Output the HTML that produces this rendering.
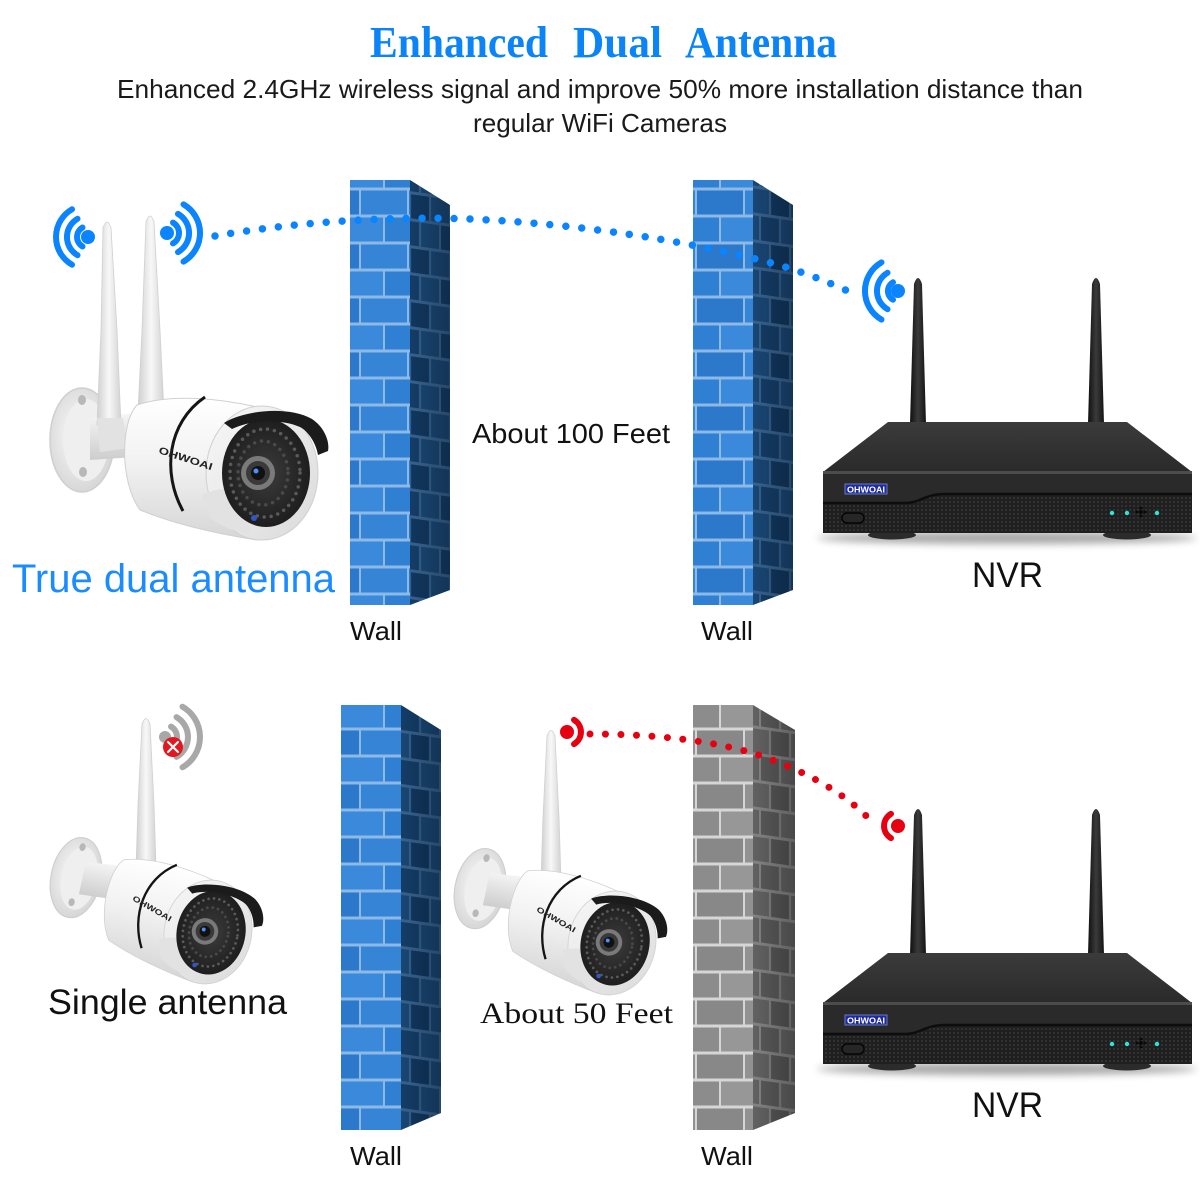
<!DOCTYPE html>
<html><head><meta charset="utf-8">
<style>
html,body{margin:0;padding:0;background:#fff;}
svg{display:block;}
</style></head><body>
<svg width="1200" height="1200" viewBox="0 0 1200 1200" xmlns="http://www.w3.org/2000/svg">
<defs>
  <pattern id="pBlueF" patternUnits="userSpaceOnUse" width="96" height="54">
    <rect width="96" height="54" fill="#8cb9e6"/>
    <rect x="1" y="1.5" width="46" height="24" fill="#2f7fd2"/>
    <rect x="49" y="1.5" width="46" height="24" fill="#3a89da"/>
    <rect x="-23" y="28.5" width="46" height="24" fill="#3584d6"/>
    <rect x="25" y="28.5" width="46" height="24" fill="#2c78cb"/>
    <rect x="73" y="28.5" width="46" height="24" fill="#3584d6"/>
  </pattern>
  <pattern id="pBlueS" patternUnits="userSpaceOnUse" width="40" height="54" patternTransform="skewY(8)">
    <rect width="40" height="54" fill="#3a6795"/>
    <rect x="1" y="1.5" width="18" height="24" fill="#15406c"/>
    <rect x="21" y="1.5" width="18" height="24" fill="#1b4a7a"/>
    <rect x="-9" y="28.5" width="18" height="24" fill="#1b4a7a"/>
    <rect x="11" y="28.5" width="18" height="24" fill="#123a64"/>
    <rect x="31" y="28.5" width="18" height="24" fill="#1b4a7a"/>
  </pattern>
  <pattern id="pGrayF" patternUnits="userSpaceOnUse" width="96" height="54">
    <rect width="96" height="54" fill="#d6d6d6"/>
    <rect x="1" y="1.5" width="46" height="24" fill="#8c8c8c"/>
    <rect x="49" y="1.5" width="46" height="24" fill="#979797"/>
    <rect x="-23" y="28.5" width="46" height="24" fill="#929292"/>
    <rect x="25" y="28.5" width="46" height="24" fill="#888888"/>
    <rect x="73" y="28.5" width="46" height="24" fill="#929292"/>
  </pattern>
  <pattern id="pGrayS" patternUnits="userSpaceOnUse" width="40" height="54" patternTransform="skewY(8)">
    <rect width="40" height="54" fill="#8a8a8a"/>
    <rect x="1" y="1.5" width="18" height="24" fill="#5e5e5e"/>
    <rect x="21" y="1.5" width="18" height="24" fill="#676767"/>
    <rect x="-9" y="28.5" width="18" height="24" fill="#676767"/>
    <rect x="11" y="28.5" width="18" height="24" fill="#5a5a5a"/>
    <rect x="31" y="28.5" width="18" height="24" fill="#676767"/>
  </pattern>
  <pattern id="mesh" patternUnits="userSpaceOnUse" width="4" height="4">
    <rect width="4" height="4" fill="#1f1f1f"/>
    <circle cx="2" cy="2" r="0.9" fill="#3d3d3d"/>
  </pattern>
  <linearGradient id="sideShade" x1="0" y1="0" x2="1" y2="0">
    <stop offset="0" stop-color="#000" stop-opacity="0.05"/>
    <stop offset="1" stop-color="#000" stop-opacity="0.3"/>
  </linearGradient>
  <linearGradient id="gBody" x1="0" y1="0" x2="0" y2="1">
    <stop offset="0" stop-color="#ffffff"/>
    <stop offset="0.45" stop-color="#f2f2f2"/>
    <stop offset="1" stop-color="#d6d6d6"/>
  </linearGradient>
  <radialGradient id="gMount" cx="0.45" cy="0.45" r="0.6">
    <stop offset="0" stop-color="#fbfbfb"/>
    <stop offset="1" stop-color="#d4d4d4"/>
  </radialGradient>
  <linearGradient id="gArm" x1="0" y1="0" x2="0" y2="1">
    <stop offset="0" stop-color="#f6f6f6"/>
    <stop offset="1" stop-color="#cdcdcd"/>
  </linearGradient>
  <linearGradient id="gRing" x1="0" y1="0" x2="1" y2="1">
    <stop offset="0" stop-color="#f8f8f8"/>
    <stop offset="1" stop-color="#dadada"/>
  </linearGradient>
  <radialGradient id="gFace" cx="0.5" cy="0.5" r="0.55">
    <stop offset="0" stop-color="#3c3c3c"/>
    <stop offset="1" stop-color="#1b1b1b"/>
  </radialGradient>
  <linearGradient id="gAntW" x1="0" y1="0" x2="1" y2="0">
    <stop offset="0" stop-color="#cfcfcf"/>
    <stop offset="0.5" stop-color="#f8f8f8"/>
    <stop offset="1" stop-color="#d2d2d2"/>
  </linearGradient>
  <linearGradient id="gAntB" x1="0" y1="0" x2="1" y2="0">
    <stop offset="0" stop-color="#101010"/>
    <stop offset="0.5" stop-color="#3a3a3a"/>
    <stop offset="1" stop-color="#141414"/>
  </linearGradient>
  <linearGradient id="gTop" x1="0" y1="0" x2="0" y2="1">
    <stop offset="0" stop-color="#3b3b3b"/>
    <stop offset="1" stop-color="#2a2a2a"/>
  </linearGradient>
  <filter id="blur" x="-20%" y="-300%" width="140%" height="700%">
    <feGaussianBlur stdDeviation="4"/>
  </filter>

  <g id="camMount">
    <ellipse cx="-180" cy="-33" rx="32" ry="52" fill="url(#gMount)" stroke="#cfcfcf" stroke-width="1.5"/>
    <ellipse cx="-176" cy="-33" rx="23" ry="41" fill="#efefef"/>
    <ellipse cx="-180" cy="-73" rx="4" ry="5" fill="#b8b8b8"/>
    <ellipse cx="-179" cy="-1" rx="4" ry="5" fill="#b8b8b8"/>
    <path d="M-172,-55 L-126,-60 L-126,-16 L-172,-13 Z" fill="url(#gArm)"/>
  </g>
  <g id="camBody">
    <path d="M-125,-68 C-90,-80 -40,-74 -5,-66 L-5,67 C-50,60 -90,50 -122,37 C-142,10 -142,-50 -125,-68 Z" fill="url(#gBody)" stroke="#d0d0d0"/>
    <path d="M-57,-76 C-95,-50 -100,0 -79,38" fill="none" stroke="#151515" stroke-width="3"/>
    <ellipse cx="0" cy="0" rx="56" ry="67" fill="url(#gRing)" stroke="#d0d0d0"/>
    <path d="M-60,22 Q-40,12 -20,18 L-10,62 Q-35,58 -52,45 Z" fill="#e2e2e2"/>
    <ellipse cx="4" cy="0" rx="44" ry="54" fill="url(#gFace)"/>
    <ellipse cx="3" cy="0" rx="35" ry="44" fill="none" stroke="#5a5a5a" stroke-width="3.5" stroke-linecap="round" stroke-dasharray="0 7"/>
    <ellipse cx="1" cy="0" rx="25" ry="32" fill="none" stroke="#4a4a4a" stroke-width="3.5" stroke-linecap="round" stroke-dasharray="0 7"/>
    <circle cx="-4" cy="0" r="17" fill="#7a7a7a"/>
    <circle cx="-4" cy="0" r="12" fill="#3a3a3a"/>
    <circle cx="-4" cy="0" r="7" fill="#111"/>
    <circle cx="-6" cy="-2" r="2.5" fill="#4a90ff"/>
    <path d="M-38,-50 C-20,-62 25,-68 50,-54 C62,-46 68,-32 66,-22 L56,-18 C54,-30 46,-42 38,-46 C20,-54 -10,-54 -30,-44 Z" fill="#1b1b1b"/>
    <circle cx="-8" cy="45" r="3" fill="#3355cc"/>
    <text x="-104" y="-20" transform="rotate(18 -104 -20)" font-family="Liberation Sans, sans-serif" font-weight="bold" font-size="10" fill="#222" textLength="56" lengthAdjust="spacingAndGlyphs">OHWOAI</text>
  </g>

  <g id="nvr">
    <ellipse cx="1007" cy="538" rx="190" ry="6" fill="#000" opacity="0.35" filter="url(#blur)"/>
    <path d="M914,284 Q918,272 922,284 L926,424 L910,424 Z" fill="url(#gAntB)"/>
    <path d="M1092,284 Q1096,272 1100,284 L1104,424 L1088,424 Z" fill="url(#gAntB)"/>
    <ellipse cx="892" cy="535" rx="24" ry="4.5" fill="#2b2b2b"/>
    <ellipse cx="1127" cy="535" rx="24" ry="4.5" fill="#2b2b2b"/>
    <polygon points="888,422 1127,422 1192,472 823,472" fill="url(#gTop)"/>
    <rect x="823" y="472" width="369" height="61" fill="#2a2a2a"/>
    <rect x="823" y="471" width="369" height="3" fill="#4c4c4c"/>
    <path d="M823,503 L905,503 C920,503 925,494 945,494 L1192,494 L1192,533 L823,533 Z" fill="url(#mesh)"/>
    <path d="M823,503 L905,503 C920,503 925,494 945,494 L1192,494" fill="none" stroke="#0d0d0d" stroke-width="2.5"/>
    <rect x="845" y="484" width="42" height="10" fill="#1e2aa0" stroke="#8090d0" stroke-width="0.8"/>
    <text x="866" y="492.3" text-anchor="middle" font-size="8.5" font-family="Liberation Sans, sans-serif" font-weight="bold" fill="#fff" textLength="38" lengthAdjust="spacingAndGlyphs">OHWOAI</text>
    <rect x="842" y="513" width="22" height="10" rx="5" fill="#262626" stroke="#050505" stroke-width="1.5"/>
    <circle cx="1112" cy="513" r="2.2" fill="#2ee6d6"/>
    <circle cx="1127" cy="513" r="2.2" fill="#2ee6d6"/>
    <circle cx="1157" cy="513" r="2.2" fill="#2ee6d6"/>
    <circle cx="1141" cy="512" r="2" fill="#080808"/>
    <circle cx="1137" cy="512" r="1.4" fill="#080808"/>
    <circle cx="1145" cy="512" r="1.4" fill="#080808"/>
    <circle cx="1141" cy="508" r="1.4" fill="#080808"/>
    <circle cx="1141" cy="516" r="1.4" fill="#080808"/>
  </g>
</defs>

<rect width="1200" height="1200" fill="#fff"/>

<!-- Title -->
<g font-family="Liberation Serif, serif" font-weight="bold" font-size="44" fill="#0b84f7">
  <text x="370" y="57" textLength="178" lengthAdjust="spacingAndGlyphs">Enhanced</text>
  <text x="573" y="57" textLength="89" lengthAdjust="spacingAndGlyphs">Dual</text>
  <text x="685" y="57" textLength="152" lengthAdjust="spacingAndGlyphs">Antenna</text>
</g>
<g font-family="Liberation Sans, sans-serif" font-size="26" fill="#1a1a1a">
  <text x="117" y="98" textLength="966" lengthAdjust="spacingAndGlyphs">Enhanced 2.4GHz wireless signal and improve 50% more installation distance than</text>
  <text x="473" y="132" textLength="254" lengthAdjust="spacingAndGlyphs">regular WiFi Cameras</text>
</g>

<!-- Walls -->
<rect x="350" y="180" width="60" height="425" fill="url(#pBlueF)"/>
<polygon points="410,180 450,205 450,590 410,605" fill="url(#pBlueS)"/>
<polygon points="410,180 450,205 450,590 410,605" fill="url(#sideShade)"/>

<rect x="693" y="180" width="60" height="425" fill="url(#pBlueF)"/>
<polygon points="753,180 793,205 793,590 753,605" fill="url(#pBlueS)"/>
<polygon points="753,180 793,205 793,590 753,605" fill="url(#sideShade)"/>

<rect x="341" y="705" width="60" height="425" fill="url(#pBlueF)"/>
<polygon points="401,705 441,730 441,1113 401,1130" fill="url(#pBlueS)"/>
<polygon points="401,705 441,730 441,1113 401,1130" fill="url(#sideShade)"/>

<rect x="693" y="705" width="60" height="425" fill="url(#pGrayF)"/>
<polygon points="753,705 795,730 795,1113 753,1130" fill="url(#pGrayS)"/>
<polygon points="753,705 795,730 795,1113 753,1130" fill="url(#sideShade)"/>

<!-- Top camera -->
<use href="#camMount" transform="translate(262,473)"/>
<path d="M103,228 Q107,216 111,228 L117,330 L121,425 L97,425 L101,330 Z" fill="url(#gAntW)" stroke="#d0d0d0" stroke-width="0.8"/>
<path d="M97,418 L123,418 L128,448 L100,452 Z" fill="#e2e2e2"/>
<path d="M146,222 Q150,210 154,222 L160,330 L164,412 L138,412 L142,330 Z" fill="url(#gAntW)" stroke="#d0d0d0" stroke-width="0.8"/>
<use href="#camBody" transform="translate(262,473)"/>

<!-- Bottom camera 1 -->
<use href="#camMount" transform="translate(208,932) rotate(12) scale(0.78)"/>
<path d="M142,724 Q146,713 150,724 L154,805 L156,868 L136,868 L138,805 Z" fill="url(#gAntW)" stroke="#d0d0d0" stroke-width="0.8"/>
<use href="#camBody" transform="translate(208,932) rotate(12) scale(0.78)"/>

<!-- Bottom camera 2 -->
<use href="#camMount" transform="translate(612,943) rotate(12) scale(0.78)"/>
<path d="M547,736 Q551,725 555,736 L559,817 L561,880 L541,880 L543,817 Z" fill="url(#gAntW)" stroke="#d0d0d0" stroke-width="0.8"/>
<use href="#camBody" transform="translate(612,943) rotate(12) scale(0.78)"/>

<!-- NVRs -->
<use href="#nvr"/>
<use href="#nvr" transform="translate(0,531)"/>

<!-- Blue signal -->
<path d="M215,236 C300,221 400,216 470,219 C580,224 680,240 760,260 C800,270 825,281 850,292" fill="none" stroke="#0a84ff" stroke-width="7.5" stroke-linecap="round" stroke-dasharray="0 16"/>
<g fill="none" stroke="#0a84ff" stroke-width="6" stroke-linecap="round">
  <path d="M82.5,227.5 A11 11 0 0 0 82.5,246.5"/>
  <path d="M77.5,218.8 A21 21 0 0 0 77.5,255.2"/>
  <path d="M72,209.3 A32 32 0 0 0 72,264.7"/>
  <path d="M173,222.6 A12 12 0 0 1 173,243.4"/>
  <path d="M178,213.9 A22 22 0 0 1 178,252.1"/>
  <path d="M183.5,204.4 A33 33 0 0 1 183.5,261.6"/>
  <path d="M893,282.3 A10 10 0 0 0 893,299.7"/>
  <path d="M887.5,272.8 A21 21 0 0 0 887.5,309.2"/>
  <path d="M881.5,262.4 A33 33 0 0 0 881.5,319.6"/>
</g>
<circle cx="88" cy="237" r="7" fill="#0a84ff"/>
<circle cx="167" cy="233" r="7" fill="#0a84ff"/>
<circle cx="898" cy="291" r="7" fill="#0a84ff"/>

<!-- Red signal -->
<path d="M590,734 C650,734 720,740 770,759 C820,778 852,800 872,822" fill="none" stroke="#e60012" stroke-width="7" stroke-linecap="round" stroke-dasharray="0 15.5"/>
<g fill="none" stroke="#e60012" stroke-width="6" stroke-linecap="round">
  <path d="M574,719.9 A14 14 0 0 1 574,744.1"/>
  <path d="M891,813.9 A14 14 0 0 0 891,838.1"/>
</g>
<circle cx="567" cy="732" r="7" fill="#e60012"/>
<circle cx="898" cy="826" r="7" fill="#e60012"/>

<!-- Gray signal with X -->
<g fill="none" stroke="#a8a8a8" stroke-width="6" stroke-linecap="round">
  <path d="M171,726.6 A12 12 0 0 1 171,747.4"/>
  <path d="M176.5,717.1 A23 23 0 0 1 176.5,756.9"/>
  <path d="M182.5,706.7 A35 35 0 0 1 182.5,767.3"/>
</g>
<circle cx="165" cy="737" r="6" fill="#a8a8a8"/>
<circle cx="173" cy="747" r="10" fill="#e3171f"/>
<path d="M168,742 L178,752 M178,742 L168,752" stroke="#fff" stroke-width="2.2" stroke-linecap="round"/>

<!-- Labels -->
<text x="12" y="592" font-family="Liberation Sans, sans-serif" font-size="40" fill="#1a8cff" textLength="323" lengthAdjust="spacingAndGlyphs">True dual antenna</text>
<g font-family="Liberation Sans, sans-serif" font-size="26" fill="#111">
  <text x="350" y="640" textLength="52" lengthAdjust="spacingAndGlyphs">Wall</text>
  <text x="701" y="640" textLength="52" lengthAdjust="spacingAndGlyphs">Wall</text>
  <text x="350" y="1165" textLength="52" lengthAdjust="spacingAndGlyphs">Wall</text>
  <text x="701" y="1165" textLength="52" lengthAdjust="spacingAndGlyphs">Wall</text>
</g>
<text x="472" y="443" font-family="Liberation Sans, sans-serif" font-size="28" fill="#111" textLength="198" lengthAdjust="spacingAndGlyphs">About 100 Feet</text>
<text x="972" y="587" font-family="Liberation Sans, sans-serif" font-size="35" fill="#111" textLength="71" lengthAdjust="spacingAndGlyphs">NVR</text>
<text x="972" y="1117" font-family="Liberation Sans, sans-serif" font-size="35" fill="#111" textLength="71" lengthAdjust="spacingAndGlyphs">NVR</text>
<text x="48" y="1014" font-family="Liberation Sans, sans-serif" font-size="35" fill="#111" textLength="239" lengthAdjust="spacingAndGlyphs">Single antenna</text>
<text x="480" y="1023" font-family="Liberation Serif, serif" font-size="30" fill="#111" textLength="193" lengthAdjust="spacingAndGlyphs">About 50 Feet</text>
</svg>
</body></html>
